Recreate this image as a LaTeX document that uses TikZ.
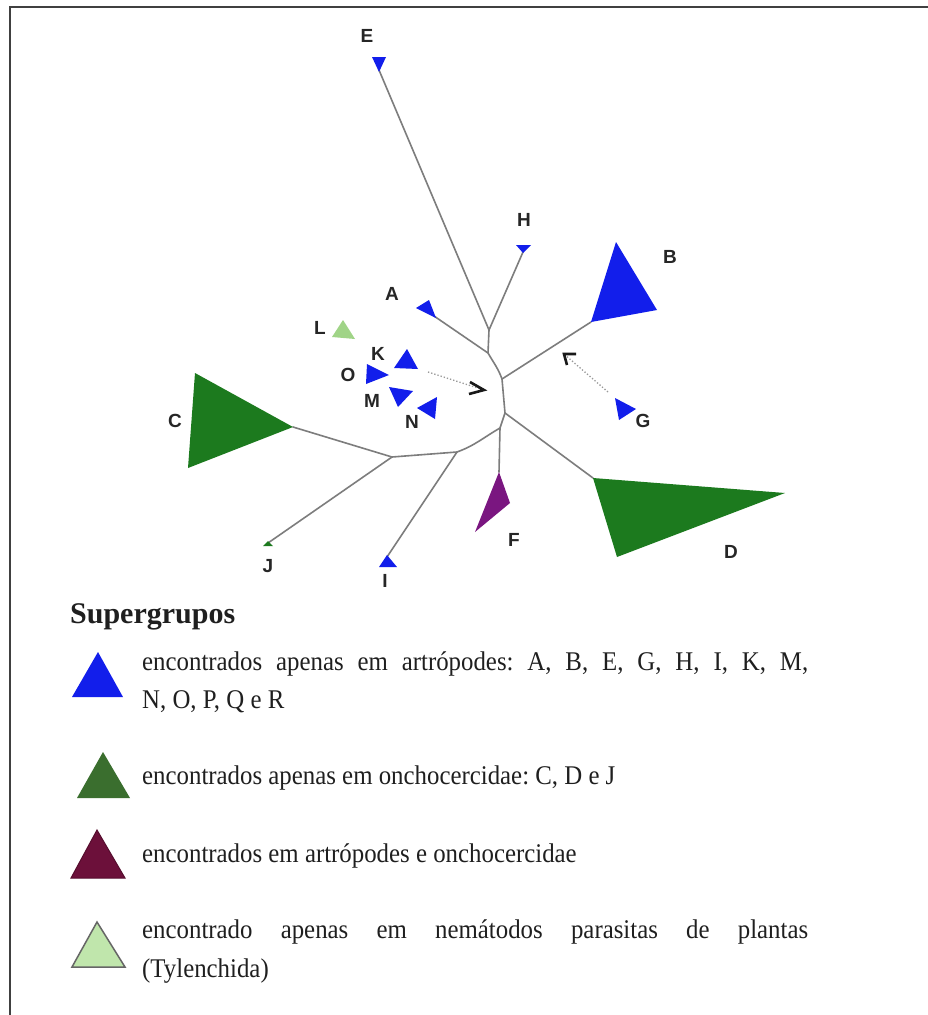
\documentclass[tikz,border=0pt]{standalone}
\usepackage{fontspec}
\setmainfont{Liberation Serif}
\newfontfamily\legfont[FakeStretch=0.92]{Liberation Serif}
\newfontfamily\lblfont{Liberation Sans}
\usetikzlibrary{arrows.meta}
\definecolor{cblue}{RGB}{18,30,235}
\definecolor{cgreen}{RGB}{28,122,30}
\definecolor{cpurple}{RGB}{122,22,128}
\definecolor{clight}{RGB}{160,212,135}
\definecolor{lgreen}{RGB}{58,110,46}
\definecolor{lmaroon}{RGB}{108,16,58}
\definecolor{llight}{RGB}{192,230,172}
\definecolor{branchgray}{RGB}{125,125,125}
\frenchspacing
\begin{document}
\begin{tikzpicture}[x=1pt,y=-1pt,
  branch/.style={draw=branchgray, line width=1.6pt, line join=round, line cap=round},
  lbl/.style={font=\lblfont\bfseries\fontsize{19}{19}\selectfont, text=black!85, inner sep=0pt},
  legtext/.style={font=\legfont\fontsize{27}{38}\selectfont, anchor=base west, inner sep=0pt, text=black!88},
  pointer/.style={draw=black!40, line width=1.3pt, dotted},
  chevron/.style={draw=black!90, line width=2.6pt, line join=miter, line cap=butt},
  tri/.style={line join=miter}
]
\useasboundingbox (0,0) rectangle (928,1015);
\fill[white] (0,0) rectangle (928,1015);
\draw[line width=2pt, black!75] (10,1015) -- (10,7) -- (928,7);

% junctions and tips
\coordinate (jEH) at (489,330);
\coordinate (jA) at (488,353);
\coordinate (jB) at (502,379);
\coordinate (jD) at (505,413);
\coordinate (jF) at (500,428);
\coordinate (jI) at (457,452);
\coordinate (jC) at (392,457);
\coordinate (tE) at (379,70);
\coordinate (tH) at (523,252);
\coordinate (tA) at (434,316);
\coordinate (tB) at (591,322);
\coordinate (tD) at (593,478);
\coordinate (tF) at (499,472);
\coordinate (tC) at (293,427);
\coordinate (tJ) at (268,543);
\coordinate (tI) at (387,557);

% backbone and branches
\draw[branch] (jEH) -- (jA) to[out=-60,in=110] (jB) -- (jD) -- (jF) to[out=-150,in=20] (jI) -- (jC);
\draw[branch] (jEH) -- (tE);
\draw[branch] (jEH) -- (tH);
\draw[branch] (jA) -- (tA);
\draw[branch] (jB) -- (tB);
\draw[branch] (jD) -- (tD);
\draw[branch] (jF) -- (tF);
\draw[branch] (jC) -- (tC);
\draw[branch] (jC) -- (tJ);
\draw[branch] (jI) -- (tI);

% clade triangles
\fill[cblue,tri] (372,57) -- (386,57) -- (379,72) -- cycle;
\fill[cblue,tri] (516,245) -- (531,245) -- (523,253) -- cycle;
\fill[cblue,tri] (416,308) -- (429,300) -- (436,318) -- cycle;
\fill[cblue,tri] (616,242) -- (657,310) -- (591,322) -- cycle;
\fill[cgreen,tri] (593,478) -- (785,493) -- (617,557) -- cycle;
\fill[cpurple,tri] (499,472) -- (510,503) -- (475,532) -- cycle;
\fill[cgreen,tri] (195,373) -- (293,427) -- (188,468) -- cycle;
\fill[cgreen,tri] (263,546) -- (273,546) -- (268,541) -- cycle;
\fill[cblue,tri] (387,555) -- (379,567) -- (397,567) -- cycle;
\fill[cblue,tri] (615,398) -- (636,409) -- (619,420) -- cycle;
\fill[cblue,tri] (407,349) -- (394,368) -- (418,369) -- cycle;
\fill[cblue,tri] (367,364) -- (389,375) -- (366,384) -- cycle;
\fill[cblue,tri] (389,387) -- (413,391) -- (398,407) -- cycle;
\fill[cblue,tri] (417,408) -- (437,397) -- (435,419) -- cycle;
\fill[clight,tri] (343,320) -- (332,337) -- (355,339) -- cycle;

% pointer arrows
\coordinate (aK0) at (428,372);
\coordinate (aK1) at (484,390);
\coordinate (aG0) at (608,392);
\coordinate (aG1) at (564,354);
\draw[pointer] (aK0) -- (aK1);
\draw[pointer] (aG0) -- (aG1);
\draw[chevron] ([shift={(-14,-8)}]aK1) -- (aK1) -- ([shift={(-15,4)}]aK1);
\draw[chevron] ([shift={(12,0)}]aG1) -- (aG1) -- ([shift={(3,11)}]aG1);

% clade labels
\node[lbl] (lE) at (367,36) {E};
\node[lbl] (lH) at (524,220) {H};
\node[lbl] (lA) at (392,294) {A};
\node[lbl] (lB) at (670,257) {B};
\node[lbl] (lL) at (320,328) {L};
\node[lbl] (lK) at (378,354) {K};
\node[lbl] (lO) at (348,375) {O};
\node[lbl] (lM) at (372,401) {M};
\node[lbl] (lN) at (412,422) {N};
\node[lbl] (lC) at (175,421) {C};
\node[lbl] (lG) at (643,421) {G};
\node[lbl] (lF) at (514,540) {F};
\node[lbl] (lD) at (731,552) {D};
\node[lbl] (lJ) at (268,566) {J};
\node[lbl] (lI) at (385,581) {I};

% legend
\node[anchor=base west, inner sep=0pt, font=\bfseries\fontsize{30}{30}\selectfont, text=black!88] (title) at (70,623) {Supergrupos};

\fill[cblue,tri] (98,652) -- (72,697) -- (123,697) -- cycle;
\node[legtext] (t1a) at (142,670) {\makebox[666pt][s]{encontrados apenas em artrópodes: A, B, E, G, H, I, K, M,}};
\node[legtext] (t1b) at (142,708) {N, O, P, Q e R};

\fill[lgreen,tri] (103,752) -- (77,798) -- (130,798) -- cycle;
\node[legtext] (t2) at (142,784) {encontrados apenas em onchocercidae: C, D e J};

\filldraw[fill=lmaroon, draw=lmaroon!80!black, line width=1pt, tri] (97,830) -- (71,878) -- (125,878) -- cycle;
\node[legtext] (t3) at (142,862) {encontrados em artrópodes e onchocercidae};

\filldraw[fill=llight, draw=black!60, line width=1.5pt, tri] (97,922) -- (72,967) -- (125,967) -- cycle;
\node[legtext] (t4a) at (142,938) {\makebox[666pt][s]{encontrado apenas em nemátodos parasitas de plantas}};
\node[legtext] (t4b) at (142,977) {(Tylenchida)};
\end{tikzpicture}
\end{document}
